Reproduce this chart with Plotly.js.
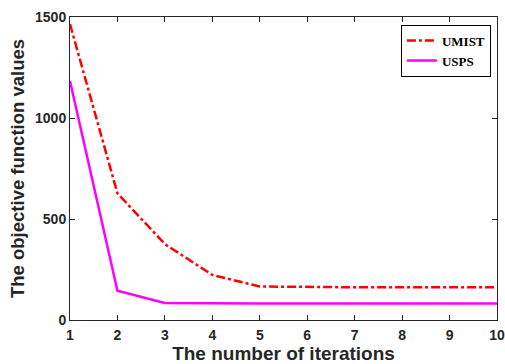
<!DOCTYPE html>
<html>
<head>
<meta charset="utf-8">
<script src="https://cdn.plot.ly/plotly-3.0.1.min.js"></script>
<style>html,body{margin:0;padding:0;background:#fff;}#chart{width:505px;height:364px;}</style>
</head>
<body>
<div id="chart"></div>
<script>
// Objective value per iteration for each dataset
const iterations = [1, 2, 3, 4, 5, 6, 7, 8, 9, 10];
const umist = [1465, 627, 376, 223, 166, 163, 162, 162, 162, 162];
const usps = [1183, 145, 84, 82, 82, 82, 82, 82, 82, 82];
const xTicks = [1, 2, 3, 4, 5, 6, 7, 8, 9, 10];
const yTicks = [0, 500, 1000, 1500];

const axisColor = '#262626';
const tickFont = {family: 'Liberation Sans, Arial, sans-serif', size: 14, color: axisColor, weight: 'bold'};
const xTitleFont = {family: 'Liberation Sans, Arial, sans-serif', size: 19, color: axisColor, weight: 'bold'};
const yTitleFont = {family: 'Liberation Sans, Arial, sans-serif', size: 18.5, color: axisColor, weight: 'bold'};

const traces = [
  {x: iterations, y: umist, name: 'UMIST', mode: 'lines',
   line: {color: '#ff0000', width: 2.5, dash: 'dashdot'}},
  {x: iterations, y: usps, name: 'USPS', mode: 'lines',
   line: {color: '#ff00ff', width: 2.5}}
];

const layout = {
  width: 505, height: 364,
  margin: {l: 70, r: 8, t: 17, b: 44},
  paper_bgcolor: '#ffffff', plot_bgcolor: '#ffffff',
  showlegend: true,
  legend: {
    x: 0.775, y: 0.975, xanchor: 'left', yanchor: 'top',
    bgcolor: '#ffffff', bordercolor: '#000000', borderwidth: 1,
    font: {family: 'Liberation Serif, Times New Roman, serif', size: 13, color: '#000000', weight: 'bold'},
    tracegroupgap: 0, itemwidth: 30
  },
  xaxis: {
    range: [1, 10], tickvals: xTicks, ticktext: xTicks.map(String),
    showgrid: false, zeroline: false, showline: true, mirror: 'ticks',
    linecolor: axisColor, linewidth: 1,
    ticks: 'inside', ticklen: 5, tickcolor: axisColor,
    tickfont: tickFont, ticklabelstandoff: 2,
    title: {text: 'The number of iterations', font: xTitleFont, standoff: 9}
  },
  yaxis: {
    range: [0, 1500], tickvals: yTicks, ticktext: yTicks.map(String),
    showgrid: false, zeroline: false, showline: true, mirror: 'ticks',
    linecolor: axisColor, linewidth: 1,
    ticks: 'inside', ticklen: 5, tickcolor: axisColor,
    tickfont: tickFont,
    title: {text: 'The objective function values', font: yTitleFont, standoff: 5}
  }
};

Plotly.newPlot('chart', traces, layout, {displayModeBar: false, staticPlot: true});
</script>
</body>
</html>
